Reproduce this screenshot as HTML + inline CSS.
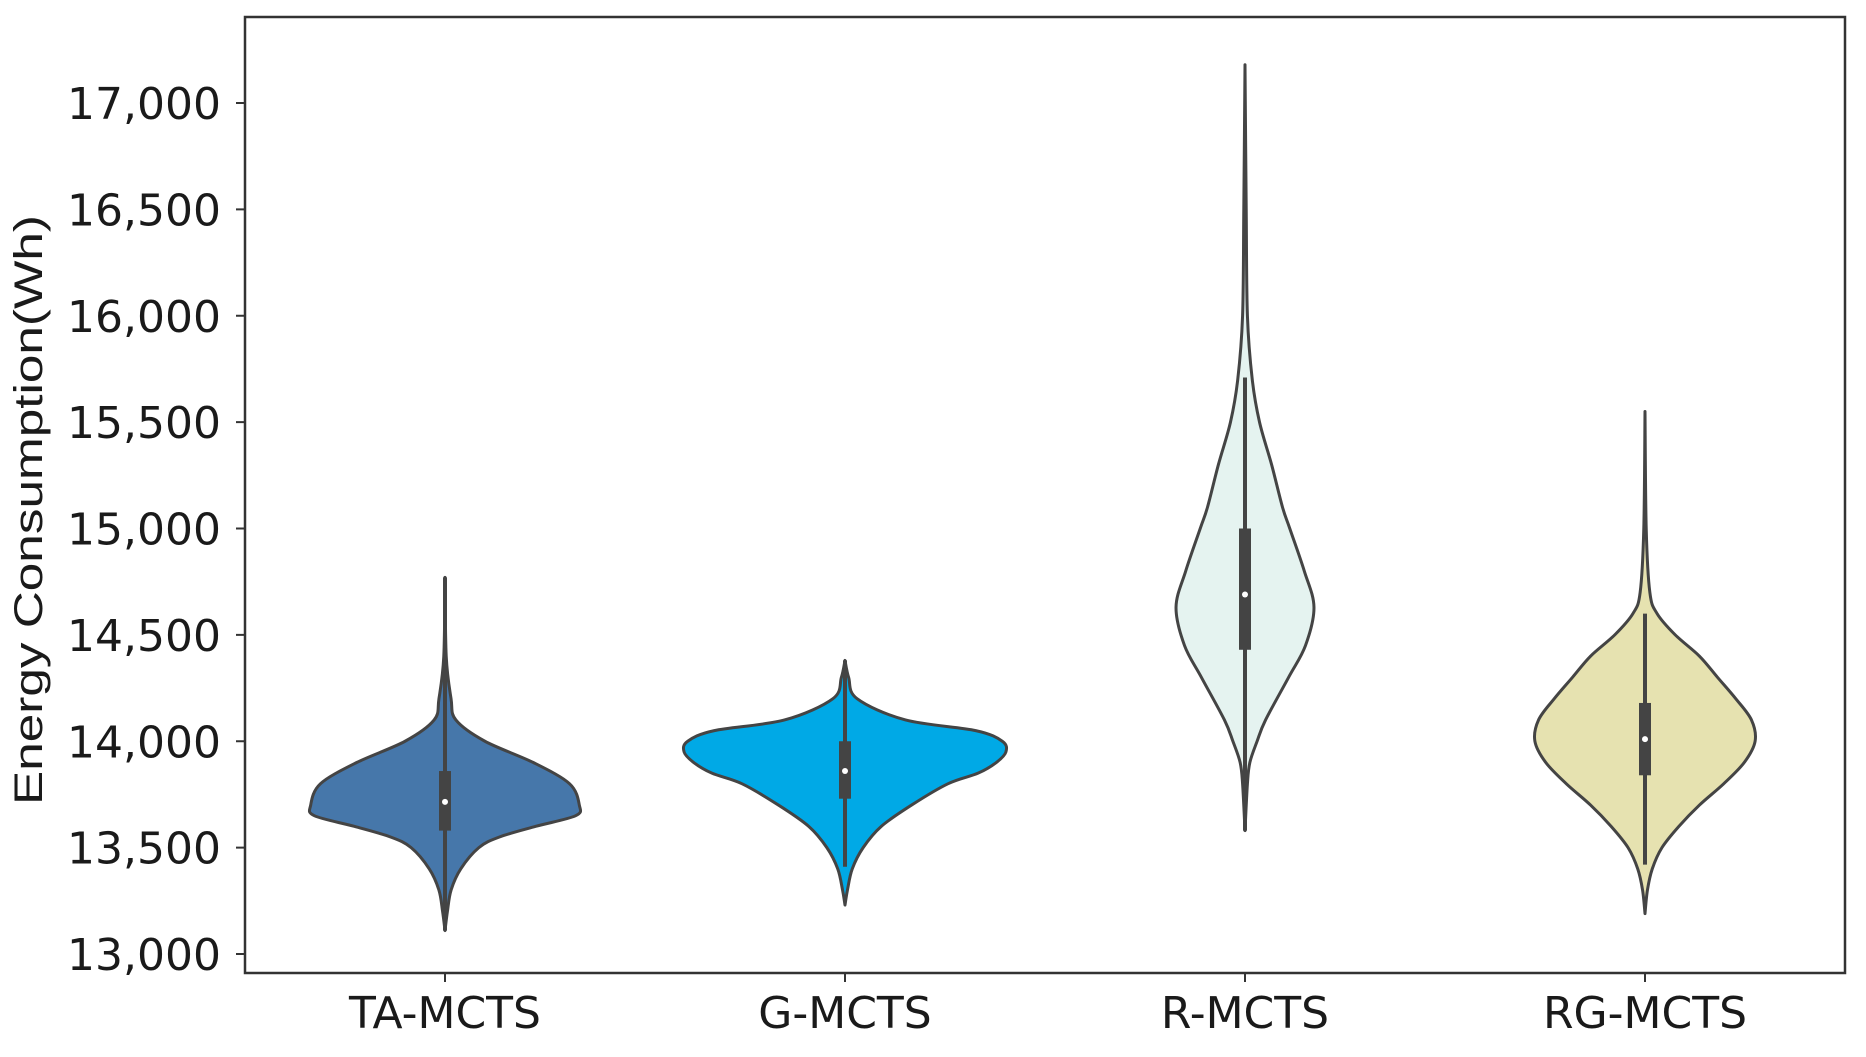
<!DOCTYPE html>
<html><head><meta charset="utf-8"><style>
html,body{margin:0;padding:0;background:#fff;}
svg{display:block;}
text{font-family:"DejaVu Sans","Liberation Sans",sans-serif;fill:#1a1a1a;}
</style></head><body>
<svg id="chart" width="1866" height="1057" viewBox="0 0 1866 1057" xmlns="http://www.w3.org/2000/svg">
<rect x="0" y="0" width="1866" height="1057" fill="#fff"/>
<g id="violins"></g>
<rect x="245" y="17" width="1600" height="956" fill="none" stroke="#333" stroke-width="2.5"/>
<g id="yaxis"></g>
<g id="xaxis"></g>
<text x="0" y="0" transform="translate(42,510) rotate(-90)" text-anchor="middle" font-size="40" textLength="590" lengthAdjust="spacingAndGlyphs" style="font-family:'Liberation Sans',sans-serif">Energy Consumption(Wh)</text>
</svg>
<script>
const categories = ["TA-MCTS","G-MCTS","R-MCTS","RG-MCTS"];
const colors = ["#4677aa","#00a9e6","#e5f3f0","#e6e2b0"];
const yTicks = [13000,13500,14000,14500,15000,15500,16000,16500,17000];
const yTickLabels = ["13,000","13,500","14,000","14,500","15,000","15,500","16,000","16,500","17,000"];
// density profiles: values and relative half-widths
const taVals = [14770,14400,14200,14100,14000,13900,13800,13700,13650,13600,13550,13500,13400,13300,13200,13110];
const taDens = [0,1,5,9,33,73,103,111,108,75,45,28,13,5,2,0];
const gVals = [14380,14300,14200,14100,14050,14000,13950,13900,13850,13800,13700,13600,13500,13400,13300,13230];
const gDens = [0,3,10,50,108,130,133,125,110,85,55,30,15,6,2,0];
const rVals = [17180,16500,16000,15700,15500,15300,15100,15000,14800,14630,14450,14300,14100,14000,13900,13800,13580];
const rDens = [0,1,2,6,12,22,31,37,49,57,50,36,17,10,4,2,0];
const rgVals = [15550,15000,14700,14600,14500,14400,14300,14200,14100,14000,13900,13800,13700,13600,13500,13400,13300,13190];
const rgDens = [0,1,4,10,25,45,60,75,88,91,82,65,45,28,14,6,2,0];
const q1 = [13580,13730,14430,13840];
const q3 = [13860,14000,15000,14180];
const medians = [13715,13860,14690,14010];
const whiskLo = [13110,13410,13580,13420];
const whiskHi = [14770,14380,15710,14600];

const NS="http://www.w3.org/2000/svg";
const plotLeft=245,plotRight=1845;
const y=v=>954-(v-13000)*(954-103)/4000;
const x=i=>plotLeft+(i+0.5)*(plotRight-plotLeft)/categories.length;
const wScale=1.21;
function mk(tag,attrs,parent){const e=document.createElementNS(NS,tag);for(const k in attrs)e.setAttribute(k,attrs[k]);parent.appendChild(e);return e;}
function smooth(pts){let d=`M${pts[0][0]},${pts[0][1]}`;for(let i=0;i<pts.length-1;i++){const p0=pts[Math.max(0,i-1)],p1=pts[i],p2=pts[i+1],p3=pts[Math.min(pts.length-1,i+2)];const c1=[p1[0]+(p2[0]-p0[0])/6,p1[1]+(p2[1]-p0[1])/6];const c2=[p2[0]-(p3[0]-p1[0])/6,p2[1]-(p3[1]-p1[1])/6];d+=` C${c1[0]},${c1[1]} ${c2[0]},${c2[1]} ${p2[0]},${p2[1]}`;}return d;}
const series=[[taVals,taDens],[gVals,gDens],[rVals,rDens],[rgVals,rgDens]];
const vg=document.getElementById('violins');
series.forEach((s,i)=>{
  const cx=x(i);
  const g=mk('g',{},vg);
  
  
  const rightPts=s[0].map((v,k)=>[cx+s[1][k]*wScale,y(v)]);
  const leftPts=s[0].map((v,k)=>[cx-s[1][k]*wScale,y(v)]).reverse();
  const d=smooth(rightPts)+' L'+smooth(leftPts).slice(1)+' Z';
  const p=mk('path',{d:d,fill:colors[i],stroke:'#444','stroke-width':3,'stroke-linejoin':'round'},g);
  
  
  const w=mk('line',{x1:cx,x2:cx,y1:y(whiskLo[i]),y2:y(whiskHi[i]),stroke:'#444','stroke-width':4},g);
  
  
  const b=mk('rect',{x:cx-6,width:12,y:y(q3[i]),height:y(q1[i])-y(q3[i]),fill:'#444'},g);
  
  
  const m=mk('circle',{cx:cx,cy:y(medians[i]),r:3,fill:'#fff'},g);
  
  
});
const ya=document.getElementById('yaxis');
yTicks.forEach((t,k)=>{
  const l=mk('line',{x1:236,x2:245,y1:y(t),y2:y(t),stroke:'#333','stroke-width':2},ya);
  
  
  const tx=mk('text',{x:221,y:y(t)+16,'text-anchor':'end','font-size':44},ya);
  tx.textContent=yTickLabels[k];
  
  
});
const xa=document.getElementById('xaxis');
categories.forEach((c,i)=>{
  const l=mk('line',{x1:x(i),x2:x(i),y1:973,y2:982,stroke:'#333','stroke-width':2},xa);
  
  
  const tx=mk('text',{x:x(i),y:1028,'text-anchor':'middle','font-size':44},xa);
  tx.textContent=c;
  
  
});
</script>
</body></html>
